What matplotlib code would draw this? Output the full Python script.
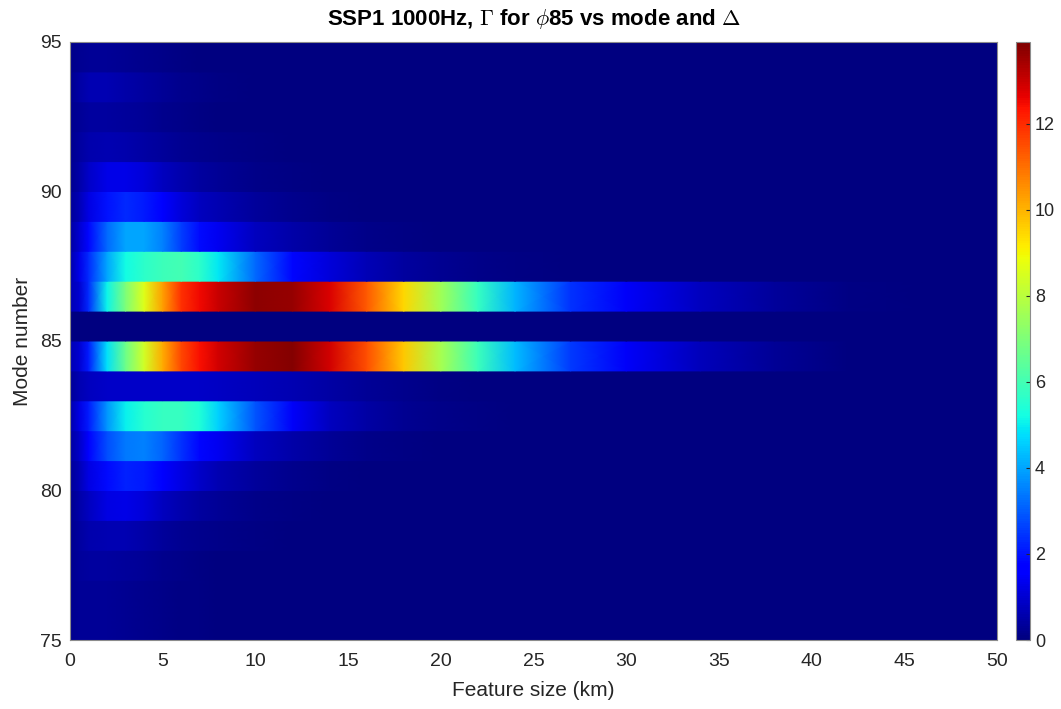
import numpy as np
import matplotlib
matplotlib.use("Agg")
import matplotlib.pyplot as plt
from matplotlib.colors import Normalize

plt.rcParams["font.family"] = ["Liberation Sans", "DejaVu Sans"]
plt.rcParams["mathtext.fontset"] = "cm"

# feature size samples (km)
X_KM = [0, 0.5, 1, 2, 3, 4, 5, 6, 7, 8, 10, 12, 14, 16, 18, 20,
        22, 24, 27, 30, 34, 38, 42, 46, 50]

# Gamma per mode (row spans mode .. mode+1), read along X_KM
G_75 = [0.2, 0.3, 0.3, 0.3, 0.25, 0.2, 0.15, 0.1, 0.1, 0.05, 0, 0, 0, 0, 0, 0, 0, 0, 0, 0, 0, 0, 0, 0, 0]
G_76 = [0.2, 0.3, 0.3, 0.3, 0.25, 0.2, 0.15, 0.1, 0.1, 0.05, 0, 0, 0, 0, 0, 0, 0, 0, 0, 0, 0, 0, 0, 0, 0]
G_77 = [0.2, 0.35, 0.4, 0.4, 0.35, 0.3, 0.2, 0.15, 0.1, 0.05, 0.05, 0, 0, 0, 0, 0, 0, 0, 0, 0, 0, 0, 0, 0, 0]
G_78 = [0.2, 0.4, 0.55, 0.65, 0.6, 0.5, 0.35, 0.25, 0.2, 0.15, 0.1, 0.05, 0, 0, 0, 0, 0, 0, 0, 0, 0, 0, 0, 0, 0]
G_79 = [0.2, 0.5, 0.8, 1.2, 1.3, 1.1, 0.8, 0.55, 0.4, 0.3, 0.15, 0.1, 0.05, 0, 0, 0, 0, 0, 0, 0, 0, 0, 0, 0, 0]
G_80 = [0.3, 0.7, 1.2, 1.9, 2.2, 2.1, 1.7, 1.2, 0.9, 0.6, 0.35, 0.2, 0.1, 0.05, 0, 0, 0, 0, 0, 0, 0, 0, 0, 0, 0]
G_81 = [0.4, 0.9, 1.6, 2.8, 3.4, 3.5, 3.1, 2.4, 1.8, 1.4, 0.8, 0.5, 0.3, 0.15, 0.1, 0.05, 0, 0, 0, 0, 0, 0, 0, 0, 0]
G_82 = [0.5, 1.2, 2.1, 3.8, 5.0, 5.5, 5.8, 5.8, 5.4, 4.6, 2.9, 1.5, 0.8, 0.45, 0.25, 0.15, 0.1, 0.05, 0, 0, 0, 0, 0, 0, 0]
G_83 = [0.3, 0.6, 0.8, 0.9, 0.9, 0.9, 0.9, 0.9, 0.9, 0.85, 0.75, 0.6, 0.45, 0.3, 0.2, 0.1, 0.05, 0, 0, 0, 0, 0, 0, 0, 0]
G_84 = [0.6, 1.0, 2.1, 4.8, 6.7, 8.4, 10.1, 11.6, 12.4, 12.9, 13.6, 13.8, 12.9, 11.5, 9.7, 7.7,
        5.9, 4.3, 2.5, 1.5, 0.75, 0.3, 0.05, 0, 0]
G_85 = [0] * 25
G_86 = [0.6, 1.0, 2.3, 5.1, 7.0, 8.6, 10.3, 11.9, 12.5, 13.0, 13.7, 13.6, 12.8, 11.3, 9.5, 7.6,
        5.8, 4.2, 2.4, 1.5, 0.8, 0.35, 0.08, 0, 0]
G_87 = [0.5, 1.3, 2.3, 4.0, 5.2, 5.6, 5.9, 6.0, 5.6, 4.9, 3.2, 1.8, 1.1, 0.7, 0.4, 0.25, 0.15, 0.1, 0.05, 0, 0, 0, 0, 0, 0]
G_88 = [0.4, 1.0, 1.8, 3.2, 4.0, 4.0, 3.5, 2.6, 1.9, 1.4, 0.8, 0.5, 0.3, 0.15, 0.1, 0.05, 0, 0, 0, 0, 0, 0, 0, 0, 0]
G_89 = [0.3, 0.7, 1.2, 2.0, 2.3, 2.1, 1.6, 1.1, 0.8, 0.6, 0.35, 0.2, 0.1, 0.05, 0, 0, 0, 0, 0, 0, 0, 0, 0, 0, 0]
G_90 = [0.2, 0.5, 0.9, 1.3, 1.3, 1.1, 0.8, 0.55, 0.4, 0.3, 0.15, 0.1, 0.05, 0, 0, 0, 0, 0, 0, 0, 0, 0, 0, 0, 0]
G_91 = [0.2, 0.4, 0.55, 0.6, 0.55, 0.45, 0.35, 0.25, 0.2, 0.15, 0.1, 0.05, 0, 0, 0, 0, 0, 0, 0, 0, 0, 0, 0, 0, 0]
G_92 = [0.2, 0.3, 0.4, 0.4, 0.35, 0.3, 0.2, 0.15, 0.1, 0.05, 0.05, 0, 0, 0, 0, 0, 0, 0, 0, 0, 0, 0, 0, 0, 0]
G_93 = [0.2, 0.45, 0.6, 0.6, 0.5, 0.4, 0.3, 0.2, 0.15, 0.1, 0.05, 0, 0, 0, 0, 0, 0, 0, 0, 0, 0, 0, 0, 0, 0]
G_94 = [0.15, 0.25, 0.3, 0.3, 0.25, 0.2, 0.15, 0.1, 0.05, 0.05, 0, 0, 0, 0, 0, 0, 0, 0, 0, 0, 0, 0, 0, 0, 0]

ROWS = {75: G_75, 76: G_76, 77: G_77, 78: G_78, 79: G_79, 80: G_80, 81: G_81,
        82: G_82, 83: G_83, 84: G_84, 85: G_85, 86: G_86, 87: G_87, 88: G_88,
        89: G_89, 90: G_90, 91: G_91, 92: G_92, 93: G_93, 94: G_94}

VMAX = 13.9
X_TICKS = list(range(0, 51, 5))
Y_TICKS = [75, 80, 85, 90, 95]
CB_TICKS = [0, 2, 4, 6, 8, 10, 12]

fig = plt.figure(figsize=(10.61, 7.09), dpi=100)
ax = fig.add_axes([0.066, 0.0973, 0.8737, 0.8435])
cax = fig.add_axes([0.9576, 0.0973, 0.0132, 0.8435])

norm = Normalize(vmin=0, vmax=VMAX)
x = np.array(X_KM, dtype=float)
for mode, vals in ROWS.items():
    c = np.vstack([vals, vals]).astype(float)
    mesh = ax.pcolormesh(x, [mode, mode + 1], c, shading="gouraud",
                         cmap="jet", norm=norm, rasterized=True)

ax.set_xlim(0, 50)
ax.set_ylim(75, 95)
ax.set_xticks(X_TICKS)
ax.set_yticks(Y_TICKS)
ax.tick_params(axis="x", length=0, labelsize=14, colors="#262626", pad=9)
ax.tick_params(axis="y", length=0, labelsize=14, colors="#262626", pad=6)
for s in ax.spines.values():
    s.set_color("#8c8c8c")
    s.set_linewidth(0.8)

ax.set_xlabel("Feature size (km)", fontsize=15, color="#262626", labelpad=8)
ax.set_ylabel("Mode number", fontsize=15, color="#262626", labelpad=6)
ax.set_title(r"SSP1 1000Hz, $\Gamma$ for $\phi$85 vs mode and $\Delta$",
             fontsize=16, fontweight="bold", pad=12)

cb = fig.colorbar(mesh, cax=cax, ticks=CB_TICKS)
cb.ax.tick_params(labelsize=13, colors="#262626", direction="in", length=3)
cb.outline.set_edgecolor("#8c8c8c")
cb.outline.set_linewidth(0.8)

fig.savefig("out.png", dpi=100)
